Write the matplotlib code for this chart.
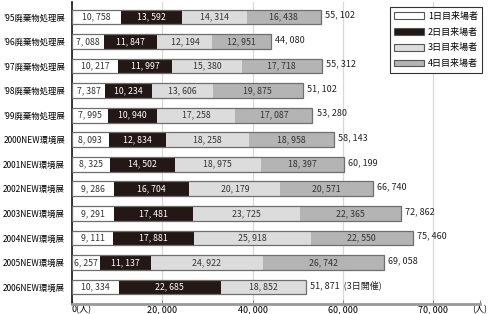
import matplotlib
matplotlib.use("Agg")
import matplotlib.pyplot as plt
from matplotlib.patches import Patch
import numpy as np

plt.rcParams["font.family"] = ["Noto Sans CJK JP", "DejaVu Sans"]

EXHIBITS = [
    "'95廃棄物処理展", "'96廃棄物処理展", "'97廃棄物処理展", "'98廃棄物処理展",
    "'99廃棄物処理展", "2000NEW環境展", "2001NEW環境展", "2002NEW環境展",
    "2003NEW環境展", "2004NEW環境展", "2005NEW環境展", "2006NEW環境展",
]
DAY1 = [10758, 7088, 10217, 7387, 7995, 8093, 8325, 9286, 9291, 9111, 6257, 10334]
DAY2 = [13592, 11847, 11997, 10234, 10940, 12834, 14502, 16704, 17481, 17881, 11137, 22685]
DAY3 = [14314, 12194, 15380, 13606, 17258, 18258, 18975, 20179, 23725, 25918, 24922, 18852]
DAY4 = [16438, 12951, 17718, 19875, 17087, 18958, 18397, 20571, 22365, 22550, 26742, 0]
SERIES_NAMES = ["1日目来場者", "2日目来場者", "3日目来場者", "4日目来場者"]
XTICKS = [0, 20000, 40000, 60000, 80000]
XTICK_LABELS = ["0(人)", "20, 000", "40, 000", "60, 000", "70, 000"]
NOTE_2006 = "(3日開催)"

COLORS = ["#ffffff", "#231815", "#dcdcdc", "#b4b4b4"]
TEXT_COLORS = ["#333333", "#ffffff", "#333333", "#333333"]
XMAX = 90400


def fmt(v):
    return f"{v:,}".replace(",", ", ")


fig = plt.figure(figsize=(5.0, 3.14), dpi=100)
ax = fig.add_axes([0.144, 0.0318, 0.816, 0.962])

y = np.arange(len(EXHIBITS))
series = [DAY1, DAY2, DAY3, DAY4]
left = np.zeros(len(EXHIBITS))
for i, vals in enumerate(series):
    vals = np.array(vals, dtype=float)
    ax.barh(y, vals, left=left, height=0.6, color=COLORS[i],
            edgecolor="none", zorder=2)
    for yy, l, v in zip(y, left, vals):
        if v > 0:
            ax.text(l + v / 2, yy, fmt(int(v)), ha="center", va="center",
                    fontsize=6.3, color=TEXT_COLORS[i], zorder=4)
    left += vals

# outline around each whole bar
ax.barh(y, left, height=0.6, fill=False, edgecolor="#6e6e6e",
        linewidth=0.9, zorder=3)
for yy, tot in zip(y, left):
    txt = fmt(int(tot))
    if yy == len(EXHIBITS) - 1:
        txt += "  " + NOTE_2006
    ax.text(tot + 900, yy - 0.08, txt, ha="left", va="center",
            fontsize=6.5, color="#222222")

ax.set_yticks(y)
ax.set_yticklabels(EXHIBITS, fontsize=6)
ax.set_ylim(11.69, -0.61)
ax.set_xlim(0, XMAX)

ax.set_xticks(XTICKS + [XMAX])
ax.set_xticklabels(XTICK_LABELS + ["(人)"], fontsize=6.5)
ax.get_xticklabels()[0].set_ha("left")
ax.tick_params(axis="y", length=0, pad=5)
ax.tick_params(axis="x", length=3, direction="in", pad=1, color="#888888")
for x in XTICKS[1:]:
    ax.axvline(x, color="#d8d8d8", linewidth=0.9, zorder=1)

ax.spines["top"].set_visible(False)
ax.spines["right"].set_visible(False)
ax.spines["left"].set_color("#111111")
ax.spines["left"].set_linewidth(1.2)
ax.spines["bottom"].set_color("#999999")
ax.spines["bottom"].set_linewidth(2)

handles = [Patch(facecolor=c, edgecolor="#555555", linewidth=0.8) for c in COLORS]
leg = ax.legend(handles, SERIES_NAMES, loc="upper left",
                bbox_to_anchor=(0.779, 0.983), borderaxespad=0,
                fontsize=6.5, handlelength=3.3, handleheight=0.8,
                labelspacing=0.75, handletextpad=0.4, fancybox=False,
                framealpha=1, edgecolor="#333333", borderpad=0.5)
leg.get_frame().set_linewidth(0.8)

fig.savefig("out.png", dpi=100)
